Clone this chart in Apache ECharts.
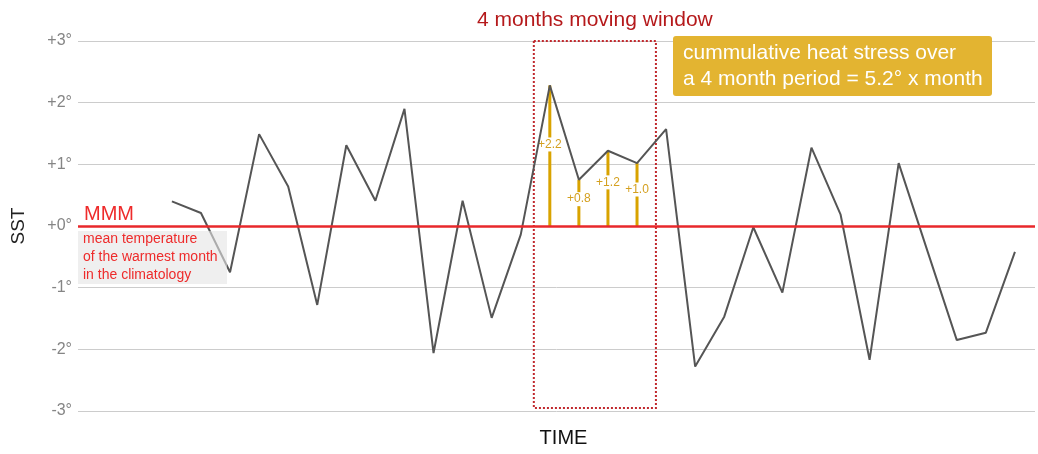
<!DOCTYPE html>
<html>
<head>
<meta charset="utf-8">
<script src="https://cdn.jsdelivr.net/npm/echarts@6/dist/echarts.min.js"></script>
<style>
  html, body { margin: 0; padding: 0; background: #fff; }
  #sstChart { width: 1038px; height: 454px; }
</style>
</head>
<body>
<div id="sstChart"></div>
<script>
// monthly SST anomaly relative to the MMM
var sst = [0.40, 0.21, -0.75, 1.49, 0.64, -1.28, 1.31, 0.41, 1.90, -2.06,
           0.41, -1.49, -0.14, 2.28, 0.75, 1.22, 1.02, 1.57, -2.28, -1.47,
           -0.02, -1.08, 1.27, 0.19, -2.17, 1.02, -0.42, -1.85, -1.73, -0.42];
var windowMonths = [13, 14, 15, 16];
var stressLabels = ['+2.2', '+0.8', '+1.2', '+1.0'];
var yTicks = [-3, -2, -1, 0, 1, 2, 3];

var font = '"Liberation Sans", Arial, sans-serif';

var lineData = sst.map(function (v, i) { return [i, v]; });
var barData = windowMonths.map(function (m) { return [m, sst[m]]; });

var myChart = echarts.init(document.getElementById('sstChart'));
myChart.setOption({
  animation: false,
  textStyle: { fontFamily: font },
  grid: { left: 78, right: 3, top: 41, bottom: 43 },
  xAxis: {
    type: 'value',
    min: -3.23,
    max: 29.69,
    name: 'TIME',
    nameLocation: 'middle',
    nameGap: 17,
    nameTextStyle: { color: '#111', fontSize: 20, padding: [0, 0, 0, 14] },
    axisLine: { show: false },
    axisTick: { show: false },
    axisLabel: { show: false },
    splitLine: { show: false }
  },
  yAxis: {
    type: 'value',
    min: yTicks[0],
    max: yTicks[yTicks.length - 1],
    interval: 1,
    name: 'SST',
    nameLocation: 'middle',
    nameRotate: 90,
    nameGap: 50,
    nameTextStyle: { color: '#222', fontSize: 19 },
    axisLine: { show: false },
    axisTick: { show: false },
    axisLabel: {
      color: '#858585',
      fontSize: 16,
      margin: 6,
      formatter: function (v) { return (v >= 0 ? '+' : '') + v + '°'; }
    },
    splitLine: { lineStyle: { color: '#cccccc', width: 1 } }
  },
  series: [
    {
      name: 'SST',
      type: 'line',
      data: lineData,
      symbol: 'none',
      z: 3,
      lineStyle: { color: '#555', width: 2 },
      markLine: {
        silent: true,
        symbol: 'none',
        lineStyle: { color: '#e8282b', width: 2.5, type: 'solid' },
        label: {
          position: 'insideStartTop',
          formatter: 'MMM',
          color: '#ee2b2b',
          fontSize: 20,
          distance: [6, 2]
        },
        data: [{ yAxis: 0 }]
      },
      markArea: {
        silent: true,
        itemStyle: {
          color: 'rgba(0,0,0,0)',
          borderColor: '#c0282d',
          borderWidth: 2,
          borderType: 'dotted'
        },
        label: {
          position: 'top',
          distance: 9,
          color: '#b5191b',
          fontSize: 21
        },
        data: [[
          { name: '4 months moving window', coord: [windowMonths[0] - 0.55, 3] },
          { coord: [windowMonths[windowMonths.length - 1] + 0.65, -2.95] }
        ]]
      }
    },
    {
      name: 'heat stress',
      type: 'bar',
      data: barData,
      barWidth: 3,
      z: 2,
      itemStyle: { color: '#d9a300' },
      label: {
        show: true,
        position: ['50%', '42%'],
        align: 'center',
        verticalAlign: 'middle',
        color: '#d4a020',
        fontSize: 12,
        backgroundColor: '#fff',
        padding: [1, 1],
        formatter: function (p) { return stressLabels[p.dataIndex]; }
      }
    }
  ],
  graphic: [
    {
      type: 'text',
      left: 78,
      top: 231,
      z: 100,
      style: {
        text: 'mean temperature\nof the warmest month\nin the climatology',
        fill: '#ee2b2b',
        fontSize: 14,
        fontFamily: font,
        lineHeight: 18,
        backgroundColor: 'rgba(228,228,228,0.6)',
        padding: [-1, 5, 0, 5],
        width: 139
      }
    },
    {
      type: 'text',
      left: 673,
      top: 36,
      z: 100,
      style: {
        text: 'cummulative heat stress over\na 4 month period = 5.2° x month',
        fill: '#fff',
        fontSize: 21,
        fontFamily: font,
        lineHeight: 26,
        backgroundColor: '#e3b431',
        borderRadius: 3,
        padding: [4, 10, 4, 10],
        width: 299
      }
    }
  ]
});
</script>
</body>
</html>
